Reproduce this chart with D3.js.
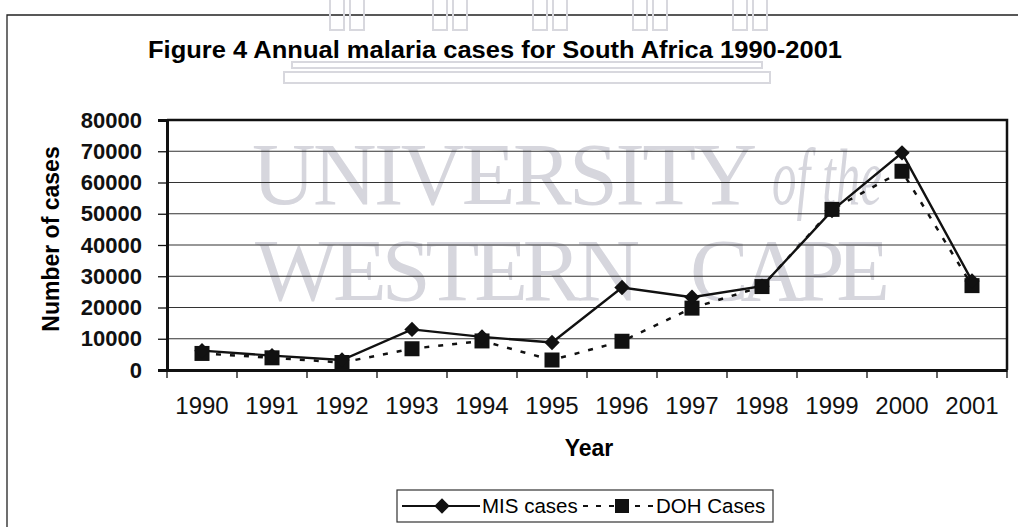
<!DOCTYPE html>
<html>
<head>
<meta charset="utf-8">
<script src="https://cdn.jsdelivr.net/npm/d3@7"></script>
<style>
  body { margin: 0; background: #fff; }
  svg { display: block; font-family: "Liberation Sans", Arial, sans-serif; }
</style>
</head>
<body>
<svg id="chart" width="1018" height="527"></svg>
<script>
// values
const years = ["1990","1991","1992","1993","1994","1995","1996","1997","1998","1999","2000","2001"];
const misCases = [6200, 4600, 3200, 13000, 10600, 8800, 26400, 23300, 26800, 51000, 69500, 28500];
const dohCases = [5300, 3900, 2400, 6800, 9300, 3200, 9200, 19800, 26700, 51400, 63600, 27000];
const yTicks = [0, 10000, 20000, 30000, 40000, 50000, 60000, 70000, 80000];

const svg = d3.select("#chart");
const plot = {left: 167, right: 1007, top: 120, bottom: 370};

const x = d3.scaleBand().domain(years).range([plot.left, plot.right]);
const y = d3.scaleLinear().domain([0, 80000]).range([plot.bottom, plot.top]);

// outer frame of the figure
svg.append("path")
   .attr("d", "M7,527 L7,15 L1018,15")
   .attr("fill", "none").attr("stroke", "#222").attr("stroke-width", 1.3);

// faint scanned watermark
const wm = svg.append("g").attr("fill", "none").attr("stroke", "#d8d8de").attr("stroke-width", 2);
[330, 433, 533, 633, 733].forEach(cx => {
  wm.append("rect").attr("x", cx).attr("y", -2).attr("width", 14).attr("height", 32);
  wm.append("rect").attr("x", cx + 20).attr("y", -2).attr("width", 14).attr("height", 32);
});
wm.append("rect").attr("x", 292).attr("y", 62).attr("width", 470).attr("height", 6);
wm.append("rect").attr("x", 284).attr("y", 72).attr("width", 486).attr("height", 11);
const wmt = svg.append("g").attr("fill", "#d6d6dd")
   .style("font-family", "'Liberation Serif', 'DejaVu Serif', serif");
wmt.append("text").attr("x", 252).attr("y", 204).attr("font-size", 88)
   .attr("textLength", 505).attr("lengthAdjust", "spacing").text("UNIVERSITY");
wmt.append("text").attr("x", 772).attr("y", 204).attr("font-size", 80).attr("font-style", "italic")
   .attr("textLength", 110).attr("lengthAdjust", "spacingAndGlyphs").text("of the");
wmt.append("text").attr("x", 255).attr("y", 300).attr("font-size", 88)
   .attr("textLength", 385).attr("lengthAdjust", "spacing").text("WESTERN");
wmt.append("text").attr("x", 690).attr("y", 300).attr("font-size", 88)
   .attr("textLength", 200).attr("lengthAdjust", "spacing").text("CAPE");

// title
svg.append("text")
   .attr("x", 495).attr("y", 58)
   .attr("text-anchor", "middle")
   .attr("font-size", 23).attr("font-weight", "bold")
   .attr("textLength", 694).attr("lengthAdjust", "spacingAndGlyphs")
   .text("Figure 4 Annual malaria cases for South Africa 1990-2001");

// gridlines
svg.append("g")
   .selectAll("line")
   .data(yTicks.filter(d => d > 0))
   .join("line")
   .attr("x1", plot.left).attr("x2", plot.right)
   .attr("y1", d => y(d)).attr("y2", d => y(d))
   .attr("stroke", "#333").attr("stroke-width", 1.2);

// plot border top / right
svg.append("path")
   .attr("d", `M${plot.left},${plot.top} L${plot.right},${plot.top} L${plot.right},${plot.bottom}`)
   .attr("fill", "none").attr("stroke", "#111").attr("stroke-width", 2.5);

// y axis
const yAxis = svg.append("g")
   .attr("transform", `translate(${plot.left},0)`)
   .call(d3.axisLeft(y).tickValues(yTicks).tickFormat(d3.format("d")).tickSize(9).tickPadding(16));
yAxis.select(".domain").attr("stroke", "#111").attr("stroke-width", 3);
yAxis.selectAll(".tick line").attr("stroke", "#111").attr("stroke-width", 1.3);
yAxis.selectAll("text")
   .attr("fill", "#111").attr("font-size", 22).attr("font-weight", "bold")
   .attr("font-family", "'Liberation Sans', Arial, sans-serif");

// x axis, ticks between categories
const xAxis = svg.append("g")
   .attr("transform", `translate(0,${plot.bottom})`)
   .call(d3.axisBottom(x).tickSize(0).tickPadding(27));
xAxis.select(".domain").attr("stroke", "#111").attr("stroke-width", 3);
xAxis.selectAll("text")
   .attr("fill", "#111").attr("font-size", 24)
   .attr("font-family", "'Liberation Sans', Arial, sans-serif");
xAxis.selectAll(".sep")
   .data(years.concat(["end"]))
   .join("line")
   .attr("class", "sep")
   .attr("x1", (d, i) => i < years.length ? x(d) : x.range()[1])
   .attr("x2", (d, i) => i < years.length ? x(d) : x.range()[1])
   .attr("y1", 0).attr("y2", 8)
   .attr("stroke", "#111").attr("stroke-width", 1.3);

// axis titles
svg.append("text")
   .attr("transform", "translate(59,239) rotate(-90)")
   .attr("text-anchor", "middle")
   .attr("font-size", 23).attr("font-weight", "bold")
   .text("Number of cases");
svg.append("text")
   .attr("x", 589).attr("y", 456)
   .attr("text-anchor", "middle")
   .attr("font-size", 23).attr("font-weight", "bold")
   .text("Year");

// series
const cx = d => x(d) + x.bandwidth() / 2;
const doh = years.map((yr, i) => ({yr, v: dohCases[i]}));
const mis = years.map((yr, i) => ({yr, v: misCases[i]}));
const line = d3.line().x(d => cx(d.yr)).y(d => y(d.v));

svg.append("path").datum(doh).attr("d", line)
   .attr("fill", "none").attr("stroke", "#111").attr("stroke-width", 2.5)
   .attr("stroke-dasharray", "5,9");
svg.append("path").datum(mis).attr("d", line)
   .attr("fill", "none").attr("stroke", "#111").attr("stroke-width", 2.4);

svg.append("g").selectAll("rect").data(doh).join("rect")
   .attr("x", d => cx(d.yr) - 7.5).attr("y", d => y(d.v) - 7.5)
   .attr("width", 15).attr("height", 15).attr("fill", "#111");
const diamond = d3.symbol().type(d3.symbolDiamond2).size(150);
svg.append("g").selectAll("path").data(mis).join("path")
   .attr("transform", d => `translate(${cx(d.yr)},${y(d.v)})`)
   .attr("d", diamond).attr("fill", "#111");

// legend
const lg = svg.append("g").attr("transform", "translate(397,490)");
lg.append("rect").attr("width", 376).attr("height", 32)
   .attr("fill", "#fff").attr("stroke", "#333").attr("stroke-width", 1.2);
lg.append("line").attr("x1", 5).attr("x2", 83).attr("y1", 16).attr("y2", 16)
   .attr("stroke", "#111").attr("stroke-width", 2);
lg.append("path").attr("transform", "translate(45,16)").attr("d", diamond).attr("fill", "#111");
lg.append("text").attr("x", 85).attr("y", 23).attr("font-size", 20.5).text("MIS cases");
lg.append("line").attr("x1", 186).attr("x2", 257).attr("y1", 16).attr("y2", 16)
   .attr("stroke", "#111").attr("stroke-width", 2).attr("stroke-dasharray", "5,8");
lg.append("rect").attr("x", 218).attr("y", 9).attr("width", 14).attr("height", 14).attr("fill", "#111");
lg.append("text").attr("x", 259).attr("y", 23).attr("font-size", 20.5).text("DOH Cases");
</script>
</body>
</html>
